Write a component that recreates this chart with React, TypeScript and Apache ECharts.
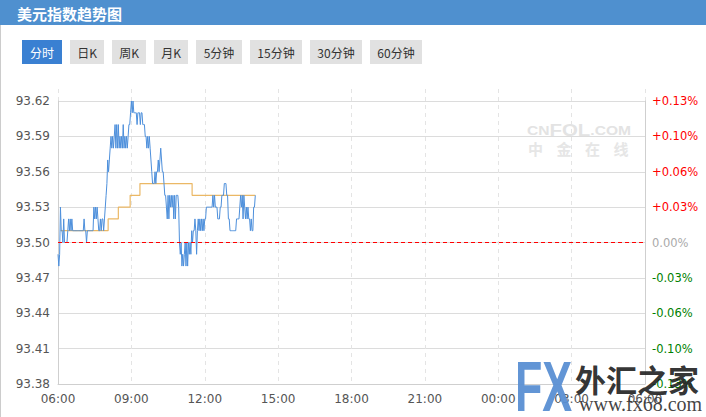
import React, { useEffect, useRef } from 'react';
import * as echarts from 'echarts';

const TITLE = '美元指数趋势图';
const TABS = ['分时', '日K', '周K', '月K', '5分钟', '15分钟', '30分钟', '60分钟'];
const PREV_CLOSE = 93.5;
const Y_MIN = 93.38;
const Y_MAX = 93.62;
const Y_STEP = 0.03;
const X_MAX_MIN = 1440; // 06:00 -> 06:00 next day, in minutes
const X_STEP_MIN = 180;
const START_HOUR = 6;
const SAMPLE_MIN = 2; // price sampled every 2 minutes from 06:00

const PRICE = [
  93.49, 93.48, 93.49, 93.53, 93.51, 93.51, 93.50, 93.52, 93.50, 93.50,
  93.50, 93.50, 93.51, 93.52, 93.51, 93.52, 93.51, 93.52, 93.51, 93.51,
  93.51, 93.51, 93.51, 93.51, 93.51, 93.51, 93.51, 93.51, 93.51, 93.51,
  93.51, 93.51, 93.52, 93.51, 93.51, 93.50, 93.51, 93.51, 93.51, 93.51,
  93.51, 93.51, 93.51, 93.51, 93.53, 93.52, 93.53, 93.52, 93.53, 93.52,
  93.51, 93.51, 93.52, 93.51, 93.52, 93.52, 93.51, 93.52, 93.53, 93.54,
  93.55, 93.57, 93.56, 93.57, 93.58, 93.59, 93.58, 93.59, 93.58, 93.59,
  93.60, 93.58, 93.60, 93.58, 93.60, 93.58, 93.59, 93.58, 93.59, 93.58,
  93.60, 93.58, 93.59, 93.58, 93.59, 93.58, 93.59, 93.60, 93.60, 93.61,
  93.62, 93.61, 93.62, 93.61, 93.61, 93.61, 93.61, 93.60, 93.61, 93.61,
  93.61, 93.60, 93.61, 93.61, 93.60, 93.60, 93.60, 93.59, 93.59, 93.58,
  93.59, 93.58, 93.59, 93.58, 93.57, 93.56, 93.55, 93.55, 93.55, 93.56,
  93.55, 93.56, 93.56, 93.57, 93.56, 93.57, 93.58, 93.57, 93.56, 93.56,
  93.55, 93.54, 93.54, 93.53, 93.52, 93.54, 93.52, 93.54, 93.53, 93.54,
  93.53, 93.54, 93.52, 93.54, 93.52, 93.54, 93.54, 93.54, 93.53, 93.50,
  93.49, 93.50, 93.48, 93.49, 93.48, 93.49, 93.50, 93.48, 93.50, 93.48,
  93.50, 93.49, 93.50, 93.49, 93.51, 93.50, 93.51, 93.51, 93.52, 93.51,
  93.49, 93.51, 93.52, 93.51, 93.52, 93.51, 93.52, 93.51, 93.52, 93.51,
  93.52, 93.52, 93.53, 93.53, 93.53, 93.53, 93.53, 93.53, 93.53, 93.53,
  93.54, 93.53, 93.54, 93.53, 93.53, 93.53, 93.52, 93.52, 93.52, 93.53,
  93.53, 93.54, 93.54, 93.54, 93.55, 93.55, 93.55, 93.54, 93.54, 93.52,
  93.52, 93.51, 93.51, 93.51, 93.51, 93.51, 93.51, 93.51, 93.51, 93.52,
  93.52, 93.52, 93.52, 93.53, 93.54, 93.53, 93.54, 93.52, 93.54, 93.53,
  93.52, 93.53, 93.52, 93.53, 93.52, 93.52, 93.51, 93.52, 93.51, 93.51,
  93.53, 93.53, 93.54,
];

const AVG_MINUTES = [6, 123, 148, 177, 201, 329, 484];
const AVG_VALUES = [93.51, 93.52, 93.53, 93.54, 93.55, 93.54, 93.54];

// layout of the tab buttons (x, width)
const TAB_X = [22, 70, 112, 154, 196, 250, 310, 370];
const TAB_W = [40, 34, 34, 34, 46, 52, 52, 52];

const pad = (n: number) => (n < 10 ? '0' + n : '' + n);

export default function App() {
  const ref = useRef<HTMLDivElement>(null);

  useEffect(() => {
    document.body.style.margin = '0';
    const chart = echarts.init(ref.current!, null, { renderer: 'svg' });

    const priceData = PRICE.map((v, i) => [i * SAMPLE_MIN, v]);
    const avgData = AVG_MINUTES.map((m, i) => [m, AVG_VALUES[i]]);

    const graphics: any[] = [
      { type: 'rect', shape: { x: 0, y: 0, width: 706, height: 25 }, style: { fill: '#4f90cf' }, z: 1 },
      {
        type: 'text', x: 17, y: 13, z: 2,
        style: { text: TITLE, fill: '#ffffff', font: 'bold 15px "Noto Sans CJK SC"', verticalAlign: 'middle' },
      },
      { type: 'line', shape: { x1: 0.5, y1: 25, x2: 0.5, y2: 417 }, style: { stroke: '#cccccc', lineWidth: 1 } },
    ];

    TABS.forEach((t, i) => {
      const active = i === 0;
      graphics.push({
        type: 'rect', shape: { x: TAB_X[i], y: 40, width: TAB_W[i], height: 24 },
        style: { fill: active ? '#3a80d2' : '#e1e1e1' },
      });
      graphics.push({
        type: 'text', x: TAB_X[i] + TAB_W[i] / 2, y: 52,
        style: {
          text: t, fill: active ? '#ffffff' : '#333333',
          font: '12px "Noto Sans CJK SC"', align: 'center', verticalAlign: 'middle',
        },
      });
    });

    // CNFOL watermark
    graphics.push({
      type: 'text', x: 527, y: 130, scaleX: 1.2, z: 0,
      style: {
        text: '{s|CN}{b|FOL}{s|.COM}', verticalAlign: 'middle',
        rich: {
          s: { font: 'bold 13px "Liberation Sans"', fill: '#e3e3e3' },
          b: { font: 'bold 17px "Liberation Sans"', fill: '#e3e3e3' },
        },
      },
    });
    ['中', '金', '在', '线'].forEach((c, i) => {
      graphics.push({
        type: 'text', x: 528 + i * 28.5, y: 148, z: 0,
        style: { text: c, fill: '#e6e6e6', font: 'bold 15px "Noto Sans CJK SC"', verticalAlign: 'middle' },
      });
    });

    // FX68 watermark
    graphics.push({
      type: 'text', x: 515, y: 387, scaleX: 0.64, z: 100,
      style: {
        text: 'FX', font: 'bold 70px "Liberation Sans"', verticalAlign: 'middle', lineHeight: 50,
        fill: '#5a8fd3', opacity: 0.95,
      },
    });
    graphics.push({
      type: 'text', x: 575, y: 378, z: 100,
      style: { text: '外汇之家', fill: '#222222', font: 'bold 31px "Noto Sans CJK SC"', verticalAlign: 'middle', opacity: 0.92 },
    });
    graphics.push({
      type: 'text', x: 579, y: 404, z: 100,
      style: { text: 'www.fx68.com', fill: '#333333', font: '20px "Liberation Serif"', verticalAlign: 'middle', opacity: 0.92 },
    });

    const option: any = {
      animation: false,
      backgroundColor: '#ffffff',
      grid: [
        { left: 58, right: 61, top: 89, bottom: 33 },
        { left: 58, right: 61, top: 101, bottom: 33 },
      ],
      xAxis: [
        {
          gridIndex: 0, type: 'value', min: 0, max: X_MAX_MIN, interval: X_STEP_MIN,
          axisLine: { show: false }, axisTick: { show: false }, axisLabel: { show: false },
          splitLine: { show: true, lineStyle: { color: '#e4e4e4', type: [4, 4], width: 1 } },
        },
        {
          gridIndex: 1, type: 'value', min: 0, max: X_MAX_MIN, interval: X_STEP_MIN,
          axisLine: { show: true, lineStyle: { color: '#cfcfcf' } },
          axisTick: { show: false },
          splitLine: { show: false },
          axisLabel: {
            show: true, color: '#555555', fontSize: 12, fontFamily: 'DejaVu Sans', margin: 9,
            showMinLabel: true, showMaxLabel: true,
            formatter: (v: number) => pad(Math.floor((START_HOUR + v / 60) % 24)) + ':00',
          },
        },
      ],
      yAxis: [
        { gridIndex: 0, type: 'value', min: 0, max: 1, show: false },
        {
          gridIndex: 1, type: 'value', min: Y_MIN, max: Y_MAX, interval: Y_STEP, position: 'left',
          axisLine: { show: true, lineStyle: { color: '#cfcfcf' } },
          axisTick: { show: false },
          splitLine: { show: true, lineStyle: { color: '#dcdcdc', width: 1 } },
          axisLabel: {
            color: '#555555', fontSize: 12, fontFamily: 'DejaVu Sans', margin: 8,
            formatter: (v: number) => v.toFixed(2),
          },
        },
        {
          gridIndex: 1, type: 'value', min: Y_MIN, max: Y_MAX, interval: Y_STEP, position: 'right',
          axisLine: { show: true, lineStyle: { color: '#cfcfcf' } },
          axisTick: { show: false },
          splitLine: { show: false },
          axisLabel: {
            margin: 7,
            formatter: (v: number) => {
              const p = ((v - PREV_CLOSE) / PREV_CLOSE) * 100;
              if (p > 1e-6) return '{up|+' + p.toFixed(2) + '%}';
              if (p < -1e-6) return '{dn|' + p.toFixed(2) + '%}';
              return '{zr|0.00%}';
            },
            rich: {
              up: { color: '#ff0000', fontSize: 11.5, fontFamily: 'DejaVu Sans' },
              dn: { color: '#008000', fontSize: 11.5, fontFamily: 'DejaVu Sans' },
              zr: { color: '#aaaaaa', fontSize: 11.5, fontFamily: 'DejaVu Sans' },
            },
          },
        },
      ],
      series: [
        {
          type: 'line', name: '均价', xAxisIndex: 1, yAxisIndex: 1,
          data: avgData, step: 'end', symbol: 'none', showSymbol: false,
          lineStyle: { color: '#ebb865', width: 1.2 }, z: 3,
        },
        {
          type: 'line', name: '美元指数', xAxisIndex: 1, yAxisIndex: 1,
          data: priceData, symbol: 'none', showSymbol: false,
          lineStyle: { color: '#4d8fdb', width: 1 }, z: 4,
          markLine: {
            silent: true, symbol: ['none', 'none'], label: { show: false },
            lineStyle: { color: '#ff0000', type: [4, 3], width: 1 },
            data: [{ yAxis: PREV_CLOSE }],
          },
        },
      ],
      graphic: graphics,
    };

    chart.setOption(option);
    return () => chart.dispose();
  }, []);

  return (
    <div
      ref={ref}
      style={{ position: 'absolute', left: 0, top: 0, width: 706, height: 417 }}
    />
  );
}
